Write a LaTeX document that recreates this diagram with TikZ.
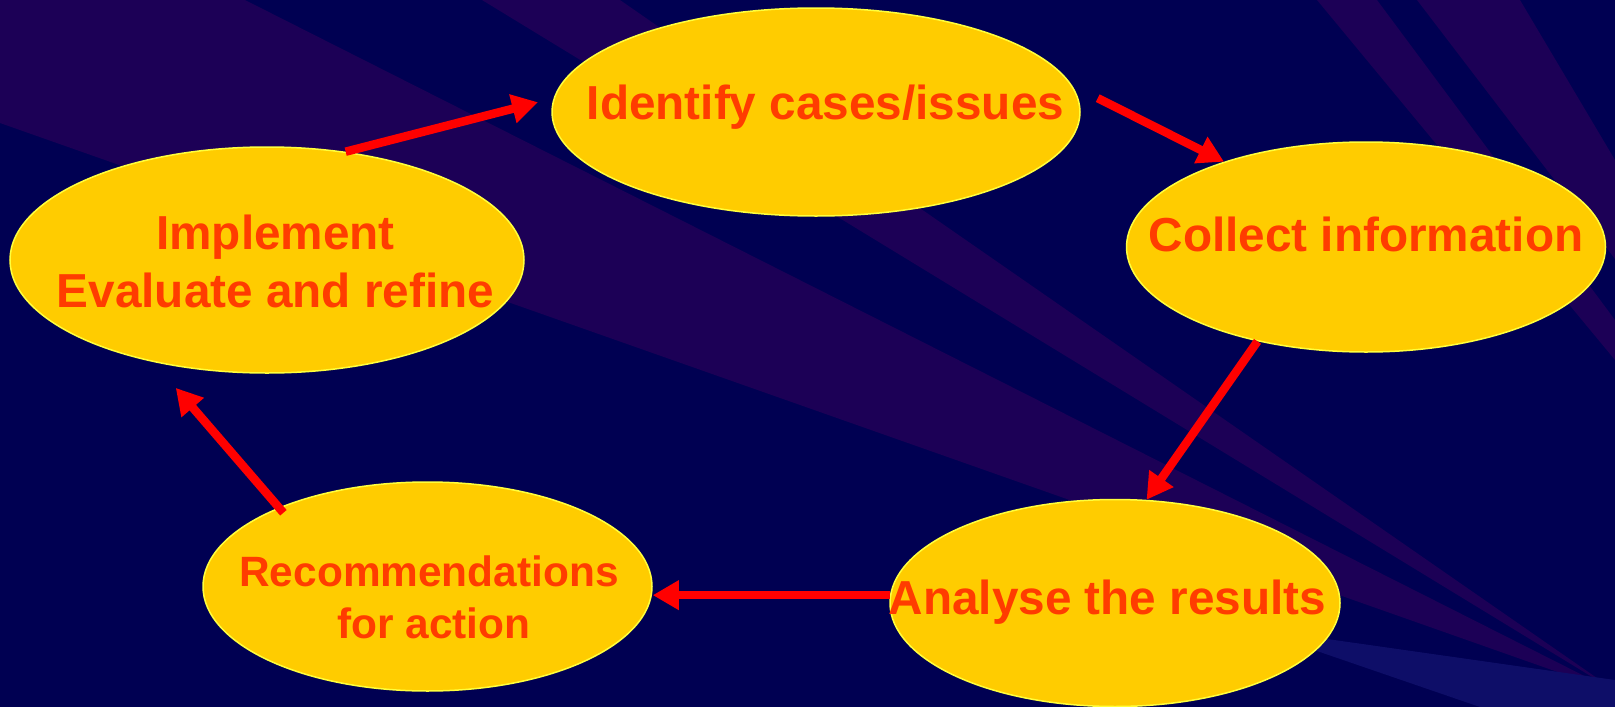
\documentclass[tikz,border=0pt]{standalone}
\usepackage{fontspec}
\setmainfont{Liberation Sans}
\usetikzlibrary{shapes.geometric,arrows.meta}
\definecolor{navy}{RGB}{0,0,82}
\definecolor{bandpurple}{RGB}{28,0,86}
\definecolor{bandblue}{RGB}{14,14,104}
\definecolor{ovalfill}{RGB}{255,204,0}
\definecolor{ovalline}{RGB}{255,255,60}
\definecolor{txt}{RGB}{255,60,0}
\definecolor{arrred}{RGB}{255,0,0}
\begin{document}
\begin{tikzpicture}[x=1pt,y=-1pt,
  oval/.style={ellipse, draw=ovalline, line width=1.5pt, fill=ovalfill, inner sep=0pt},
  lbl/.style={text=txt, font=\bfseries\fontsize{47.7}{58}\selectfont, align=center, anchor=base, inner sep=0pt},
  lblsmall/.style={lbl, font=\bfseries\fontsize{42.4}{51.3}\selectfont},
  arr/.style={draw=arrred, line width=8.5pt, -{Triangle[length=26pt,width=28pt]}},
  band/.style={fill=bandpurple}]
\useasboundingbox (0,0) rectangle (1615,707);
\begin{scope}
\clip (0,0) rectangle (1615,707);
\fill[navy] (0,0) rectangle (1615,707);
\coordinate (V) at (1620,694);
\fill[band] (0,0) -- (245,0) -- (V) -- (0,123) -- cycle;
\fill[band] (482,0) -- (620,0) -- (V) -- cycle;
\fill[band] (1317,0) -- (1377,0) -- (1615,320) -- (1615,360) -- cycle;
\fill[band] (1417,0) -- (1520,0) -- (1615,160) -- (1615,259) -- cycle;
\fill[bandblue] (1250,628) -- (1615,680) -- (1615,707) -- (1480,707) -- cycle;
\end{scope}
% ovals
\node[oval, minimum width=528pt, minimum height=208pt] (ident) at (816,112) {};
\node[oval, minimum width=479pt, minimum height=210pt] (coll) at (1366,247) {};
\node[oval, minimum width=450pt, minimum height=207pt] (anal) at (1115,603) {};
\node[oval, minimum width=449pt, minimum height=209pt] (rec) at (427.5,586.5) {};
\node[oval, minimum width=514pt, minimum height=226pt] (impl) at (267,260) {};
% arrows
\draw[arr, shorten >=16pt] (impl.54) -- (ident.177);
\draw[arr, shorten <=29pt] (ident.6) -- (coll.149);
\draw[arr] (coll.221) -- (anal.73);
\draw[arr] (anal.178) -- (anal.178 -| rec.east);
\draw[arr, shorten <=-7pt, shorten >=34pt] (rec.152) -- (impl.222);
% labels
\node[lbl] (identT) at (825.5,119.5) {Identify cases/issues};
\node[lbl] (collT) at (1366,251) {Collect information};
\node[lbl] (implT) at (275.5,307.3) {Implement\\Evaluate and refine};
\node[lblsmall] (recT) at (429,638) {Recommendations\\\hspace*{10pt}for action};
\node[lbl] (analT) at (1107.5,614) {Analyse the results};
\end{tikzpicture}
\end{document}
